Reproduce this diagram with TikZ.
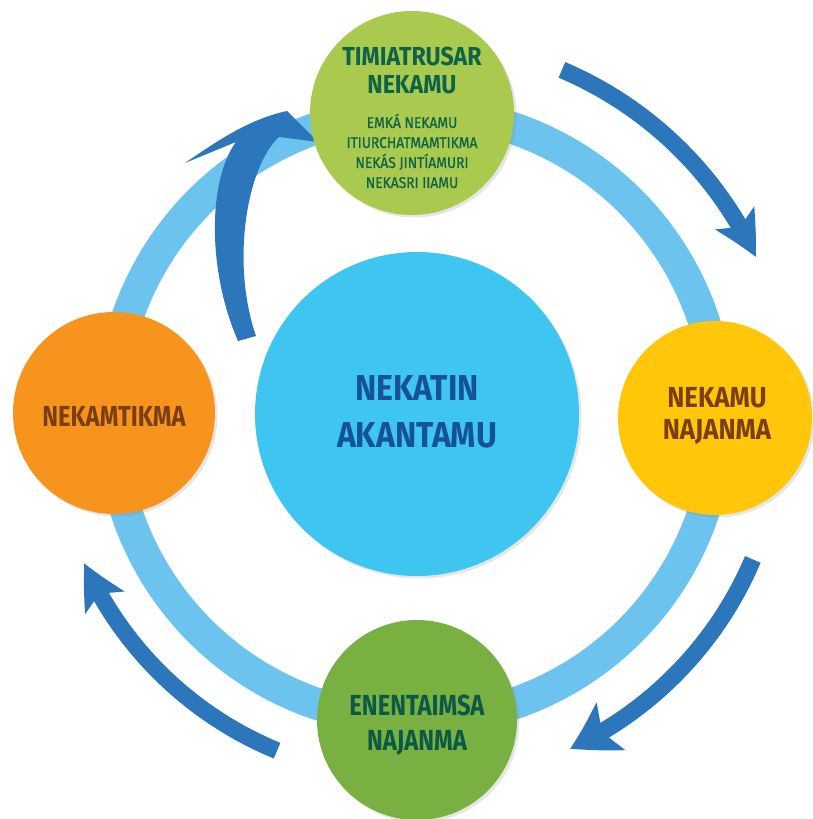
\documentclass[tikz,border=0pt]{standalone}
\usepackage{fontspec}
\newfontfamily\cf{Fira Sans}[FakeStretch=0.82]
\newfontfamily\cfw{Fira Sans}[FakeStretch=0.89]
\newfontfamily\cfwm{Fira Sans}[FakeStretch=0.89, FakeBold=0.8]
\usetikzlibrary{arrows.meta,bending,shadows}
\definecolor{ringblue}{RGB}{108,196,238}
\definecolor{arrowblue}{RGB}{44,119,188}
\definecolor{topgreen}{RGB}{169,201,79}
\definecolor{topgtext}{RGB}{14,100,72}
\definecolor{sunyellow}{RGB}{255,198,10}
\definecolor{orangec}{RGB}{247,148,30}
\definecolor{botgreen}{RGB}{120,176,65}
\definecolor{browntext}{RGB}{122,62,18}
\definecolor{botgtext}{RGB}{12,90,70}
\definecolor{centerblue}{RGB}{62,198,240}
\definecolor{centertext}{RGB}{22,82,150}
\begin{document}
\begin{tikzpicture}[x=1pt,y=1pt,
  bub/.style={circle, inner sep=0pt, draw=none,
    drop shadow={shadow xshift=2.5pt,shadow yshift=-2.5pt,opacity=0.2}},
  lbl/.style={align=center, inner sep=0pt},
  cyc/.style={line width=17pt, draw=arrowblue,
    -{Stealth[length=44pt,width=44pt,inset=10pt,bend]}},
  cycbig/.style={line width=17pt, draw=arrowblue,
    -{Stealth[length=46pt,width=54pt,inset=10pt,bend]}}
]
\useasboundingbox (0,0) rectangle (813,819);
\coordinate (o) at (415,403);
% ring
\draw[ringblue, line width=32pt] (o) circle[radius=304];
% cycle arrows
\coordinate (a1s) at ([shift={(67:376)}]o);
\coordinate (a2s) at ([shift={(-23:367)}]o);
\coordinate (a3s) at ([shift={(247.6:362)}]o);
\draw[cyc] (a1s) arc[start angle=67, end angle=25, radius=376];
\draw[cycbig] (a2s) arc[start angle=-23, end angle=-65, radius=367];
\draw[cyc] (a3s) arc[start angle=247.6, end angle=204, radius=362];
% top-left curved arrow
\fill[arrowblue] (256,483) -- (238,478)
  .. controls (207,549) and (208,639) .. (236,677)
  -- (185,656) .. controls (220,680) and (250,700) .. (287,708)
  -- (318,677) -- (279,682)
  .. controls (248,654) and (230,559) .. (256,483) -- cycle;
% circles
\node[bub, fill=centerblue, minimum size=324pt] (center) at (417,405) {};
\node[lbl, text=centertext, font=\cfw\bfseries\fontsize{36}{47}\selectfont] (centert) at (417,407.5) {NEKATIN\\AKANTAMU};

\node[bub, fill=topgreen, minimum size=204pt] (plan) at (412,706) {};
\node[lbl, text=topgtext, font=\cfw\bfseries\fontsize{26}{28}\selectfont] (plant) at (412,748) {TIMIATRUSAR\\NEKAMU};
\node[lbl, text=topgtext, font=\cfwm\fontsize{15.5}{20}\selectfont] (plans) at (412,668) {EMKÁ NEKAMU\\ITIURCHATMAMTIKMA\\NEKÁS JINTÍAMURI\\NEKASRI IIAMU};

\node[bub, fill=sunyellow, minimum size=194pt] (right) at (715,401) {};
\node[lbl, text=browntext, font=\cfw\bfseries\fontsize{29}{32}\selectfont] (rightt) at (717,403) {NEKAMU\\NAJANMA};

\node[bub, fill=orangec, minimum size=202pt] (left) at (114,406) {};
\node[lbl, text=browntext, font=\cf\bfseries\fontsize{29}{32}\selectfont] (leftt) at (114,403) {NEKAMTIKMA};

\node[bub, fill=botgreen, minimum size=200pt] (bottom) at (417,99) {};
\node[lbl, text=botgtext, font=\cf\bfseries\fontsize{29}{35}\selectfont] (bottomt) at (417,93.5) {ENENTAIMSA\\NAJANMA};
\end{tikzpicture}
\end{document}
